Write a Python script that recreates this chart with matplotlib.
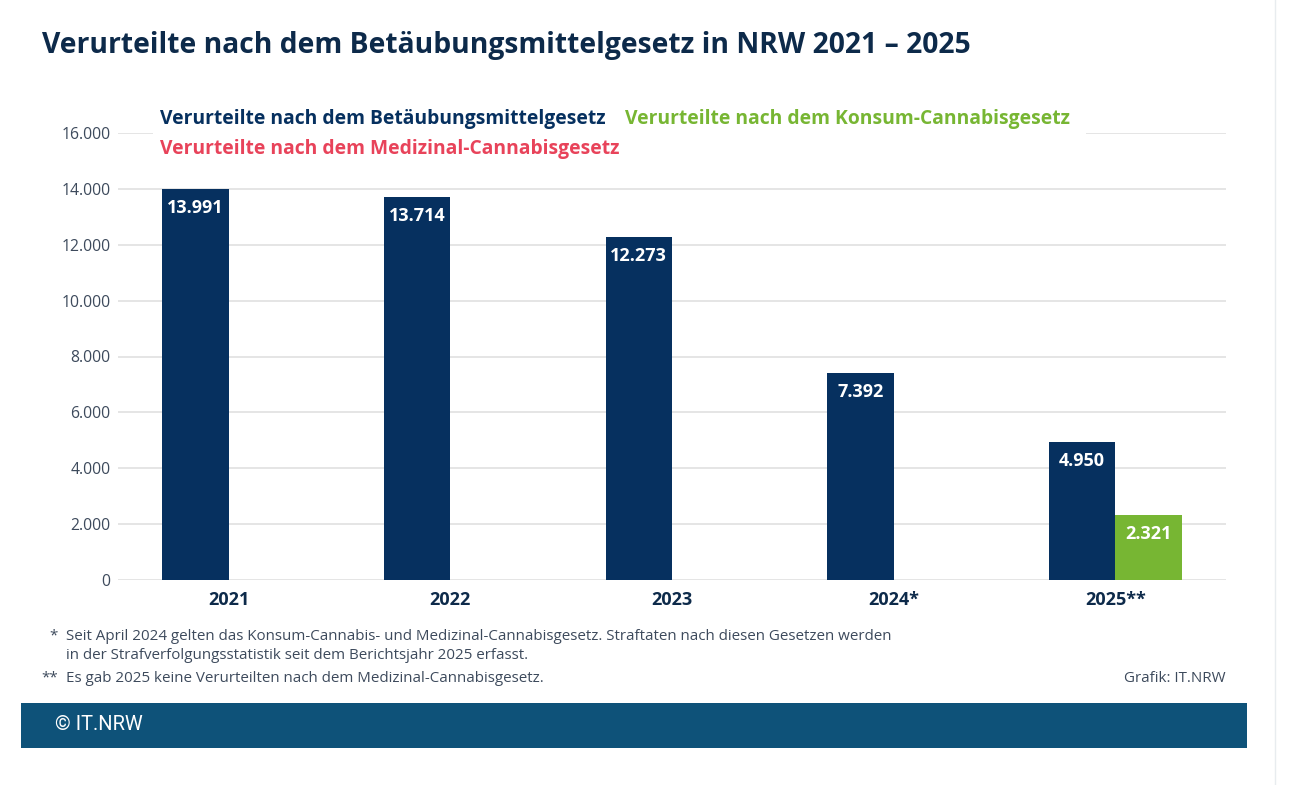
import matplotlib
matplotlib.use("Agg")
import matplotlib.pyplot as plt
from matplotlib.patches import Rectangle

# ---- data ----
categories = ["2021", "2022", "2023", "2024*", "2025**"]
btm_values = [13991, 13714, 12273, 7392, 4950]
kcan_values = [None, None, None, None, 2321]
mcan_values = [None, None, None, None, None]
y_ticks = [0, 2000, 4000, 6000, 8000, 10000, 12000, 14000, 16000]
y_tick_labels = ["0", "2.000", "4.000", "6.000", "8.000", "10.000", "12.000", "14.000", "16.000"]
series_names = ["Verurteilte nach dem Betäubungsmittelgesetz",
                "Verurteilte nach dem Konsum-Cannabisgesetz",
                "Verurteilte nach dem Medizinal-Cannabisgesetz"]
title = "Verurteilte nach dem Betäubungsmittelgesetz in NRW 2021 – 2025"
footnote1 = "Seit April 2024 gelten das Konsum-Cannabis- und Medizinal-Cannabisgesetz. Straftaten nach diesen Gesetzen werden\nin der Strafverfolgungsstatistik seit dem Berichtsjahr 2025 erfasst."
footnote2 = "Es gab 2025 keine Verurteilten nach dem Medizinal-Cannabisgesetz."
credit = "Grafik: IT.NRW"
footer = "© IT.NRW"

NAVY = "#06305f"
GREEN = "#77b633"
RED = "#e8435a"
TITLE_C = "#0d2a4a"
GRAY = "#3d4a5c"
FONT = "Open Sans"

W, H = 1304, 785
fig = plt.figure(figsize=(W / 100, H / 100), dpi=100)
fig.patch.set_facecolor("white")

def px(x, y):
    return x / W, 1 - y / H

ax = fig.add_axes([118 / W, 1 - 580 / H, (1226 - 118) / W, (580 - 133) / H])
ax.set_xlim(-0.5, 4.5)
ax.set_ylim(0, 16000)
for s in ax.spines.values():
    s.set_visible(False)
ax.set_yticks(y_ticks)
ax.set_yticklabels(y_tick_labels, fontsize=11.3, color=GRAY, family=FONT)
ax.tick_params(axis="y", length=0, pad=5.5)
ax.tick_params(axis="x", length=0, pad=8)
ax.grid(axis="y", color="#e0e0e0", linewidth=1.2, zorder=0)
ax.set_axisbelow(True)
ax.set_xticks(range(len(categories)))
ax.set_xticklabels(categories, fontsize=13, fontweight="bold", color=TITLE_C, family=FONT)

bw = 0.30
xs = list(range(len(categories)))
for i, v in enumerate(btm_values):
    if v is None:
        continue
    ax.bar(xs[i] - bw / 2, v, width=bw, color=NAVY, zorder=2)
    ax.text(xs[i] - bw / 2, v - 680, f"{v:,}".replace(",", "."), ha="center", va="center",
            color="white", fontsize=13, fontweight="bold", family=FONT, zorder=3)
for i, v in enumerate(kcan_values):
    if v is None:
        continue
    ax.bar(xs[i] + bw / 2, v, width=bw, color=GREEN, zorder=2)
    ax.text(xs[i] + bw / 2, v - 680, f"{v:,}".replace(",", "."), ha="center", va="center",
            color="white", fontsize=13, fontweight="bold", family=FONT, zorder=3)

# legend background covering gridline
fig.patches.append(Rectangle(px(153, 162), (1086 - 153) / W, 62 / H,
                             transform=fig.transFigure, facecolor="white", edgecolor="none", zorder=5))
fig.text(*px(160, 119), series_names[0], color=NAVY, fontsize=13.85, fontweight="bold",
         family=FONT, va="center", ha="left", zorder=6)
fig.text(*px(625, 119), series_names[1], color=GREEN, fontsize=13.85, fontweight="bold",
         family=FONT, va="center", ha="left", zorder=6)
fig.text(*px(160, 149), series_names[2], color=RED, fontsize=13.85, fontweight="bold",
         family=FONT, va="center", ha="left", zorder=6)

# title
fig.text(*px(42, 45), title, color=TITLE_C, fontsize=20.3, fontweight="bold",
         family=FONT, va="center", ha="left")

# footnotes
fig.text(*px(58, 636), "*", color=GRAY, fontsize=10.9, family=FONT, va="center", ha="right")
fig.text(*px(66, 646), footnote1, color=GRAY, fontsize=10.9, family=FONT, va="center",
         ha="left", linespacing=1.4)
fig.text(*px(58, 678), "**", color=GRAY, fontsize=10.9, family=FONT, va="center", ha="right")
fig.text(*px(66, 678), footnote2, color=GRAY, fontsize=10.9, family=FONT, va="center", ha="left")
fig.text(*px(1226, 678), credit, color=GRAY, fontsize=10.9, family=FONT, va="center", ha="right")

# footer bar
fig.patches.append(Rectangle(px(21, 748), (1247 - 21) / W, 45 / H, transform=fig.transFigure,
                             facecolor="#0e5279", edgecolor="none"))
fig.text(*px(55, 725), footer, color="white", fontsize=14.5, family="Roboto", va="center", ha="left")

# right border line
fig.add_artist(plt.Line2D([1275 / W, 1275 / W], [0, 1], transform=fig.transFigure,
                          color="#e8ecef", linewidth=1))

fig.savefig("out.png", dpi=100, facecolor="white")
